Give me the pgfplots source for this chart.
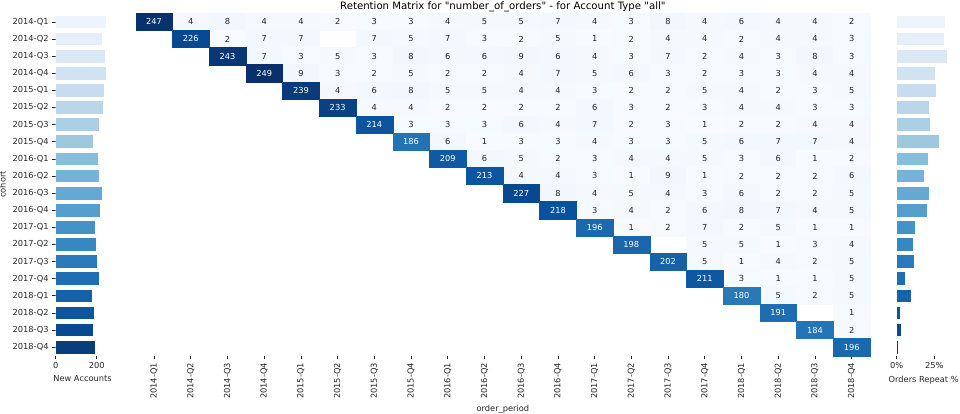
\documentclass[border=0pt]{standalone}
\usepackage{fontspec}
\setmainfont{DejaVu Sans}[Ligatures=TeXOff]
\usepackage{pgfplots}
\usepackage{pgfplotstable}
\pgfplotsset{compat=1.18}
\pgfplotsset{/pgf/number format/assume math mode=true}
\pgfplotsset{colormap={hm}{rgb255=(247,251,255) rgb255=(222,235,247) rgb255=(198,219,239) rgb255=(158,202,225) rgb255=(107,174,214) rgb255=(66,146,198) rgb255=(33,113,181) rgb255=(8,81,156) rgb255=(8,48,107)}}
\newcommand\tfont{\fontsize{8.3}{10}\selectfont}
\definecolor{txt}{RGB}{38,38,38}
\definecolor{bc0}{RGB}{237,245,252}
\definecolor{bc1}{RGB}{228,239,249}
\definecolor{bc2}{RGB}{219,233,246}
\definecolor{bc3}{RGB}{209,227,243}
\definecolor{bc4}{RGB}{200,220,240}
\definecolor{bc5}{RGB}{187,214,235}
\definecolor{bc6}{RGB}{171,208,230}
\definecolor{bc7}{RGB}{156,201,224}
\definecolor{bc8}{RGB}{136,190,220}
\definecolor{bc9}{RGB}{117,179,216}
\definecolor{bc10}{RGB}{99,169,211}
\definecolor{bc11}{RGB}{84,158,205}
\definecolor{bc12}{RGB}{68,147,199}
\definecolor{bc13}{RGB}{55,135,192}
\definecolor{bc14}{RGB}{42,122,186}
\definecolor{bc15}{RGB}{31,110,179}
\definecolor{bc16}{RGB}{21,98,169}
\definecolor{bc17}{RGB}{12,86,160}
\definecolor{bc18}{RGB}{8,73,144}
\definecolor{bc19}{RGB}{8,61,126}

% off-diagonal cells: column, row, value
\pgfplotstableread[row sep=\\]{
c r v\\
1 0 4\\ 2 0 8\\ 3 0 4\\ 4 0 4\\ 5 0 2\\ 6 0 3\\ 7 0 3\\ 8 0 4\\ 9 0 5\\ 10 0 5\\ 11 0 7\\ 12 0 4\\ 13 0 3\\ 14 0 8\\ 15 0 4\\ 16 0 6\\ 17 0 4\\ 18 0 4\\ 19 0 2\\
2 1 2\\ 3 1 7\\ 4 1 7\\ 6 1 7\\ 7 1 5\\ 8 1 7\\ 9 1 3\\ 10 1 2\\ 11 1 5\\ 12 1 1\\ 13 1 2\\ 14 1 4\\ 15 1 4\\ 16 1 2\\ 17 1 4\\ 18 1 4\\ 19 1 3\\
3 2 7\\ 4 2 3\\ 5 2 5\\ 6 2 3\\ 7 2 8\\ 8 2 6\\ 9 2 6\\ 10 2 9\\ 11 2 6\\ 12 2 4\\ 13 2 3\\ 14 2 7\\ 15 2 2\\ 16 2 4\\ 17 2 3\\ 18 2 8\\ 19 2 3\\
4 3 9\\ 5 3 3\\ 6 3 2\\ 7 3 5\\ 8 3 2\\ 9 3 2\\ 10 3 4\\ 11 3 7\\ 12 3 5\\ 13 3 6\\ 14 3 3\\ 15 3 2\\ 16 3 3\\ 17 3 3\\ 18 3 4\\ 19 3 4\\
5 4 4\\ 6 4 6\\ 7 4 8\\ 8 4 5\\ 9 4 5\\ 10 4 4\\ 11 4 4\\ 12 4 3\\ 13 4 2\\ 14 4 2\\ 15 4 5\\ 16 4 4\\ 17 4 2\\ 18 4 3\\ 19 4 5\\
6 5 4\\ 7 5 4\\ 8 5 2\\ 9 5 2\\ 10 5 2\\ 11 5 2\\ 12 5 6\\ 13 5 3\\ 14 5 2\\ 15 5 3\\ 16 5 4\\ 17 5 4\\ 18 5 3\\ 19 5 3\\
7 6 3\\ 8 6 3\\ 9 6 3\\ 10 6 6\\ 11 6 4\\ 12 6 7\\ 13 6 2\\ 14 6 3\\ 15 6 1\\ 16 6 2\\ 17 6 2\\ 18 6 4\\ 19 6 4\\
8 7 6\\ 9 7 1\\ 10 7 3\\ 11 7 3\\ 12 7 4\\ 13 7 3\\ 14 7 3\\ 15 7 5\\ 16 7 6\\ 17 7 7\\ 18 7 7\\ 19 7 4\\
9 8 6\\ 10 8 5\\ 11 8 2\\ 12 8 3\\ 13 8 4\\ 14 8 4\\ 15 8 5\\ 16 8 3\\ 17 8 6\\ 18 8 1\\ 19 8 2\\
10 9 4\\ 11 9 4\\ 12 9 3\\ 13 9 1\\ 14 9 9\\ 15 9 1\\ 16 9 2\\ 17 9 2\\ 18 9 2\\ 19 9 6\\
11 10 8\\ 12 10 4\\ 13 10 5\\ 14 10 4\\ 15 10 3\\ 16 10 6\\ 17 10 2\\ 18 10 2\\ 19 10 5\\
12 11 3\\ 13 11 4\\ 14 11 2\\ 15 11 6\\ 16 11 8\\ 17 11 7\\ 18 11 4\\ 19 11 5\\
13 12 1\\ 14 12 2\\ 15 12 7\\ 16 12 2\\ 17 12 5\\ 18 12 1\\ 19 12 1\\
15 13 5\\ 16 13 5\\ 17 13 1\\ 18 13 3\\ 19 13 4\\
15 14 5\\ 16 14 1\\ 17 14 4\\ 18 14 2\\ 19 14 5\\
16 15 3\\ 17 15 1\\ 18 15 1\\ 19 15 5\\
17 16 5\\ 18 16 2\\ 19 16 5\\
19 17 1\\
19 18 2\\
}\offdiag

% diagonal cells (new accounts per cohort)
\pgfplotstableread[row sep=\\]{
c r v\\
0 0 247\\ 1 1 226\\ 2 2 243\\ 3 3 249\\ 4 4 239\\ 5 5 233\\ 6 6 214\\ 7 7 186\\ 8 8 209\\ 9 9 213\\
10 10 227\\ 11 11 218\\ 12 12 196\\ 13 13 198\\ 14 14 202\\ 15 15 211\\ 16 16 180\\ 17 17 191\\ 18 18 184\\ 19 19 196\\
}\diag

\begin{document}
\begin{tikzpicture}[x=1bp,y=1bp]
\path[use as bounding box] (0,0) rectangle (960,413);
\pgfplotsset{
  every axis/.append style={
    scale only axis, anchor=south west, height=342.4bp,
    ymin=-0.5, ymax=19.5, y dir=reverse,
    axis line style={draw=none},
    tick align=outside, major tick length=3.5bp,
    tick style={draw=txt, line width=0.6bp},
    tick label style={font=\tfont, text=txt},
    label style={font=\tfont, text=txt},
    xtick pos=left, ytick pos=left,
  },
}
% ---------- heatmap ----------
\begin{axis}[
  at={(135.7bp,57.3bp)}, width=734.3bp,
  xmin=-0.5, xmax=19.5, clip=false,
  xtick={0,...,19},
  xticklabels={2014-Q1,2014-Q2,2014-Q3,2014-Q4,2015-Q1,2015-Q2,2015-Q3,2015-Q4,2016-Q1,2016-Q2,2016-Q3,2016-Q4,2017-Q1,2017-Q2,2017-Q3,2017-Q4,2018-Q1,2018-Q2,2018-Q3,2018-Q4},
  x tick label style={rotate=90, anchor=east},
  ytick=\empty,
  xlabel={order\_period},
  title={Retention Matrix for "number\_of\_orders" - for Account Type "all"},
  every axis title shift=0pt,
  title style={font=\fontsize{10.2}{12}\selectfont, text=black, at={(rel axis cs:0.5,1)}, anchor=base, yshift=4.1bp},
  colormap name=hm,
  point meta min=1, point meta max=249,
]
% cells
\addplot[scatter, only marks, mark=square*, mark size=8.6bp,
  mark options={xscale=2.14, line width=0.3bp},
  point meta=explicit,
  scatter/use mapped color={draw=mapped color, fill=mapped color}]
  table[x=c, y=r, meta=v] {\offdiag};
\addplot[scatter, only marks, mark=square*, mark size=8.6bp,
  mark options={xscale=2.14, line width=0.3bp},
  point meta=explicit,
  scatter/use mapped color={draw=mapped color, fill=mapped color}]
  table[x=c, y=r, meta=v] {\diag};
% annotations
\addplot[draw=none, mark=none, point meta=explicit, nodes near coords,
  every node near coord/.append style={anchor=center, font=\tfont, text=txt, inner sep=0pt}]
  table[x=c, y=r, meta=v] {\offdiag};
\addplot[draw=none, mark=none, point meta=explicit, nodes near coords,
  every node near coord/.append style={anchor=center, font=\tfont, text=white, inner sep=0pt}]
  table[x=c, y=r, meta=v] {\diag};
\end{axis}
% ---------- new accounts ----------
\begin{axis}[
  at={(55.7bp,57.3bp)}, width=53.6bp,
  xmin=0, xmax=261.45,
  xtick={0,200},
  ytick={0,...,19},
  yticklabels={2014-Q1,2014-Q2,2014-Q3,2014-Q4,2015-Q1,2015-Q2,2015-Q3,2015-Q4,2016-Q1,2016-Q2,2016-Q3,2016-Q4,2017-Q1,2017-Q2,2017-Q3,2017-Q4,2018-Q1,2018-Q2,2018-Q3,2018-Q4},
  xlabel={New Accounts}, ylabel={cohort},
  every axis plot/.append style={xbar, bar width=0.8, bar shift=0pt, draw=white, line width=0.8bp},
]
\addplot[fill=bc0] coordinates {(247,0)};
\addplot[fill=bc1] coordinates {(226,1)};
\addplot[fill=bc2] coordinates {(243,2)};
\addplot[fill=bc3] coordinates {(249,3)};
\addplot[fill=bc4] coordinates {(239,4)};
\addplot[fill=bc5] coordinates {(233,5)};
\addplot[fill=bc6] coordinates {(214,6)};
\addplot[fill=bc7] coordinates {(186,7)};
\addplot[fill=bc8] coordinates {(209,8)};
\addplot[fill=bc9] coordinates {(213,9)};
\addplot[fill=bc10] coordinates {(227,10)};
\addplot[fill=bc11] coordinates {(218,11)};
\addplot[fill=bc12] coordinates {(196,12)};
\addplot[fill=bc13] coordinates {(198,13)};
\addplot[fill=bc14] coordinates {(202,14)};
\addplot[fill=bc15] coordinates {(211,15)};
\addplot[fill=bc16] coordinates {(180,16)};
\addplot[fill=bc17] coordinates {(191,17)};
\addplot[fill=bc18] coordinates {(184,18)};
\addplot[fill=bc19] coordinates {(196,19)};
\end{axis}
% ---------- orders repeat % ----------
\begin{axis}[
  at={(896.7bp,57.3bp)}, width=53.9bp,
  xmin=0, xmax=35.8,
  xtick={0,25}, xticklabels={0\%,25\%},
  ytick=\empty,
  xlabel={Orders Repeat \%},
  every axis plot/.append style={xbar, bar width=0.8, bar shift=0pt, draw=white, line width=0.8bp},
]
\addplot[fill=bc0] coordinates {(32.6,0)};
\addplot[fill=bc1] coordinates {(31.7,1)};
\addplot[fill=bc2] coordinates {(33.7,2)};
\addplot[fill=bc3] coordinates {(26.0,3)};
\addplot[fill=bc4] coordinates {(26.6,4)};
\addplot[fill=bc5] coordinates {(21.8,5)};
\addplot[fill=bc6] coordinates {(22.6,6)};
\addplot[fill=bc7] coordinates {(28.4,7)};
\addplot[fill=bc8] coordinates {(20.8,8)};
\addplot[fill=bc9] coordinates {(18.7,9)};
\addplot[fill=bc10] coordinates {(21.5,10)};
\addplot[fill=bc11] coordinates {(20.4,11)};
\addplot[fill=bc12] coordinates {(12.2,12)};
\addplot[fill=bc13] coordinates {(11.3,13)};
\addplot[fill=bc14] coordinates {(11.8,14)};
\addplot[fill=bc15] coordinates {(6.0,15)};
\addplot[fill=bc16] coordinates {(9.5,16)};
\addplot[fill=bc17] coordinates {(2.7,17)};
\addplot[fill=bc18] coordinates {(3.4,18)};
\addplot[fill=bc19] coordinates {(0.9,19)};
\end{axis}
\end{tikzpicture}
\end{document}
